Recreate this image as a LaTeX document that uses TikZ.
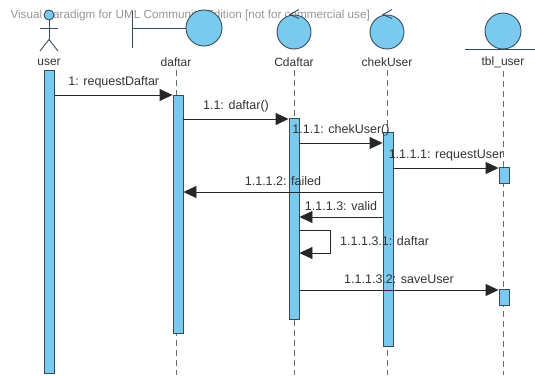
\documentclass[tikz,border=0pt]{standalone}
\usepackage{fontspec}
\setmainfont{Liberation Sans}
\usetikzlibrary{arrows.meta}

\definecolor{umlblue}{RGB}{122,202,240}
\definecolor{umledge}{RGB}{55,75,90}
\definecolor{wmgrey}{RGB}{150,150,150}

\tikzset{
  lifeline/.style={draw=umledge!80, dash pattern=on 6pt off 4pt, line width=0.9pt},
  actbar/.style={draw=umledge, fill=umlblue, line width=0.9pt, minimum width=10pt, inner sep=0pt, anchor=north},
  icon/.style={circle, draw=umledge, fill=umlblue, line width=0.9pt, inner sep=0pt, minimum size=36pt},
  stroke/.style={draw=umledge, line width=0.9pt},
  msg/.style={-{Triangle[length=13pt,width=12pt]}, line width=0.9pt, draw=black!85},
  msglabel/.style={font=\fontsize{12.5}{14}\selectfont, text=black!80},
  objlabel/.style={font=\fontsize{12}{14}\selectfont, text=black!80},
}

\begin{document}
\begin{tikzpicture}[x=1pt, y=-1pt]

 \useasboundingbox (0,0) rectangle (535,375);
 \coordinate (bottom) at (0,375);

 % watermark
 \node[anchor=west, text=wmgrey, font=\fontsize{11.7}{13}\selectfont] (wm) at (7,15) {Visual Paradigm for UML Community Edition [not for commercial use]};

 % user (actor)
 \node[icon, minimum size=10pt] (uHead) at (49,15) {};
 \draw[stroke] (uHead.south) -- ++(0,19) coordinate (uHip);
 \draw[stroke] (40,28) -- (58,28);
 \draw[stroke] (40,51) -- (uHip) -- (58,51);
 \node[objlabel] (lUser) at (49,62) {user};

 % daftar (boundary)
 \node[icon] (cDaftar) at (204,28) {};
 \draw[stroke] (132,11) -- (132,48);
 \draw[stroke] (132,28) -- (cDaftar.west);
 \node[objlabel] (lDaftar) at (176,62) {daftar};

 % Cdaftar (control)
 \node[icon, minimum size=34pt] (cCdaftar) at (294,32) {};
 \draw[stroke] ([shift={(5,-5)}]cCdaftar.north) -- ([shift={(-4,0)}]cCdaftar.north) -- ([shift={(5,4)}]cCdaftar.north);
 \node[objlabel] (lCdaftar) at (294,62) {Cdaftar};

 % chekUser (control)
 \node[icon, minimum size=34pt] (cChek) at (387,32) {};
 \draw[stroke] ([shift={(5,-5)}]cChek.north) -- ([shift={(-4,0)}]cChek.north) -- ([shift={(5,4)}]cChek.north);
 \node[objlabel] (lChek) at (387,62) {chekUser};

 % tbl_user (entity)
 \node[icon] (cTbl) at (503,31) {};
 \draw[stroke] (465,49) -- (535,49);
 \node[objlabel] (lTbl) at (503,62) {tbl\_user};

 % lifelines
 \draw[lifeline] (lDaftar.south) -- (lDaftar.south |- bottom);
 \draw[lifeline] (lCdaftar.south) -- (lCdaftar.south |- bottom);
 \draw[lifeline] (lChek.south) -- (lChek.south |- bottom);
 \draw[lifeline] (lTbl.south) -- (lTbl.south |- bottom);

 % activation bars
 \node[actbar, minimum height=303pt] (bUser) at (49.5,70) {};
 \node[actbar, minimum height=238pt] (bDaftar) at (178,95) {};
 \node[actbar, minimum height=201pt] (bCdaftar) at (294,118) {};
 \node[actbar, minimum height=214pt] (bChek) at (388,132) {};
 \node[actbar, minimum height=16pt] (bTbl1) at (504,167) {};
 \node[actbar, minimum height=16pt] (bTbl2) at (504,289) {};

 % messages
 \coordinate (y1) at (0,95);
 \coordinate (y2) at (0,119);
 \coordinate (y3) at (0,143);
 \coordinate (y4) at (0,168);
 \coordinate (y5) at (0,192);
 \coordinate (y6) at (0,217);
 \coordinate (y7) at (0,230);
 \coordinate (y8) at (0,253);
 \coordinate (y9) at (0,290);

 \draw[msg] (bUser.east |- y1) -- (bDaftar.west |- y1) node[msglabel, midway, above=3pt] {1: requestDaftar};
 \draw[msg] (bDaftar.east |- y2) -- (bCdaftar.west |- y2) node[msglabel, midway, above=3pt] {1.1: daftar()};
 \draw[msg] (bCdaftar.east |- y3) -- (bChek.west |- y3) node[msglabel, midway, above=3pt] {1.1.1: chekUser()};
 \draw[msg] (bChek.east |- y4) -- (bTbl1.west |- y4) node[msglabel, midway, above=3pt] {1.1.1.1: requestUser};
 \draw[msg] (bChek.west |- y5) -- (bDaftar.east |- y5) node[msglabel, midway, above=3pt] {1.1.1.2: failed};
 \draw[msg] (bChek.west |- y6) -- (bCdaftar.east |- y6) node[msglabel, midway, above=3pt] {1.1.1.3: valid};
 \draw[msg] (bCdaftar.east |- y7) -- ++(31,0) |- (bCdaftar.east |- y8) node[msglabel, pos=0.25, right=6pt] {1.1.1.3.1: daftar};
 \draw[msg] (bCdaftar.east |- y9) -- (bTbl2.west |- y9) node[msglabel, midway, above=3pt] {1.1.1.3.2: saveUser};

\end{tikzpicture}
\end{document}
